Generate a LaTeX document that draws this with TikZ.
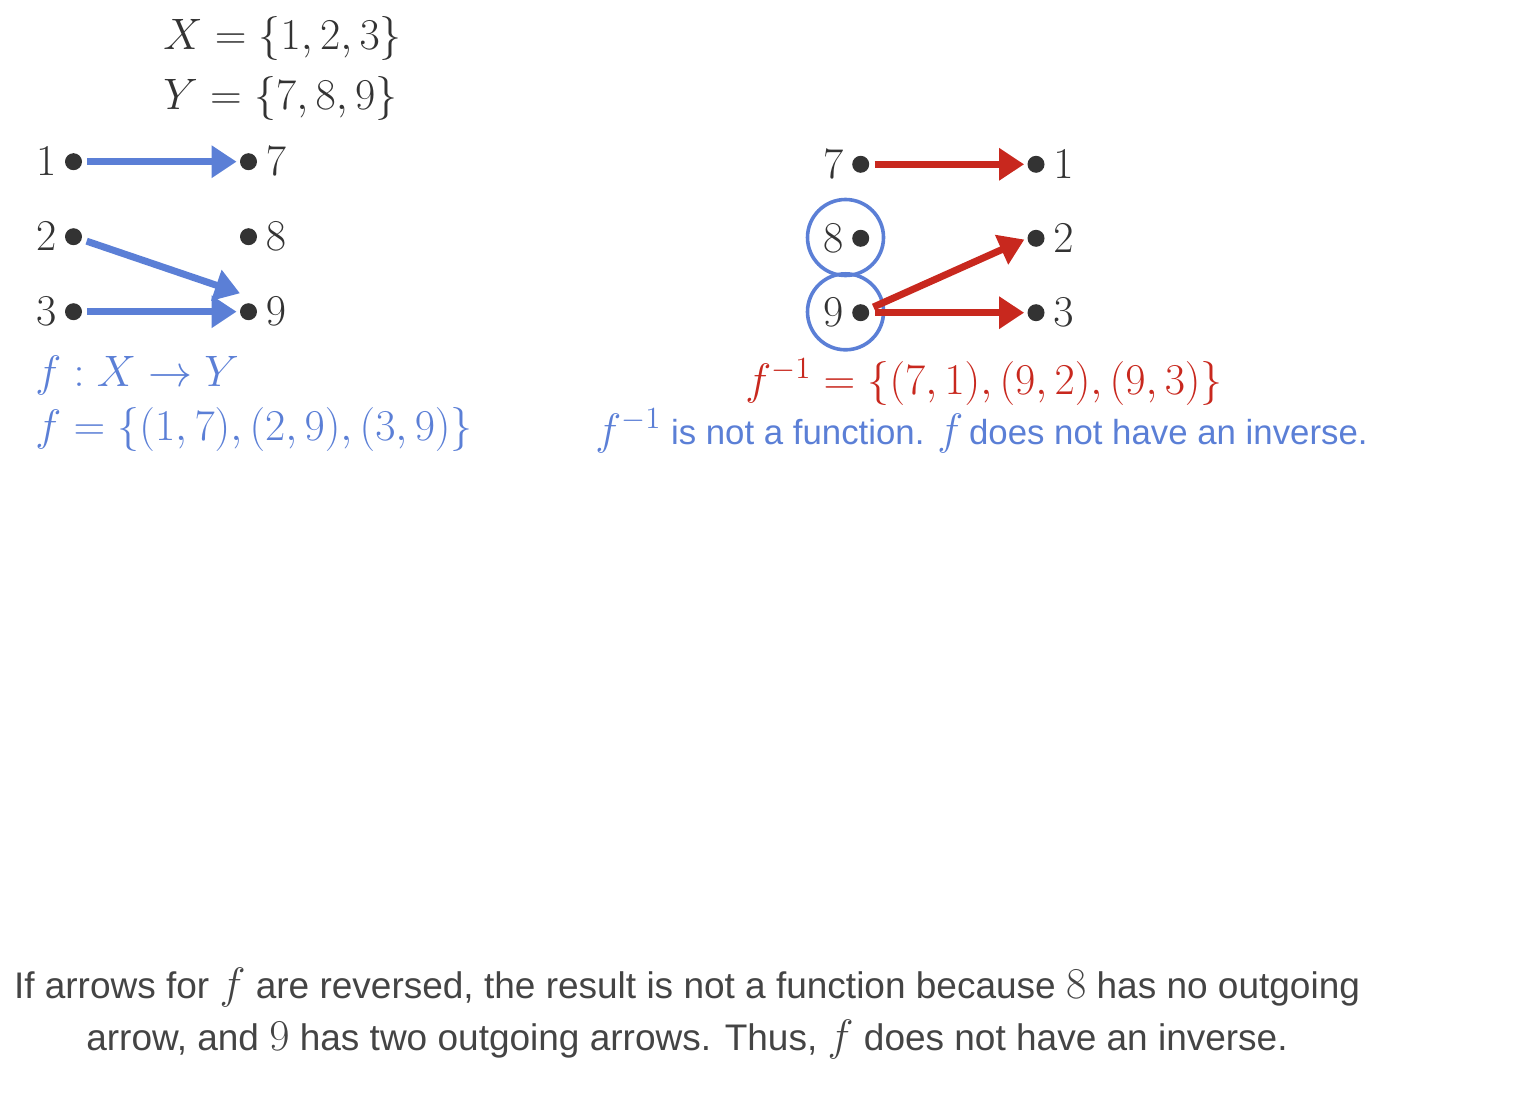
\documentclass[tikz,border=0pt]{standalone}
\usepackage{fix-cm}
\usepackage{fontspec}
\newfontfamily\uifont{Liberation Sans}
\usepackage{xcolor}
\usetikzlibrary{arrows.meta,positioning,calc}

\definecolor{fblue}{HTML}{5B7FD6}
\definecolor{fred}{HTML}{C8281E}
\definecolor{ink}{HTML}{333333}
\definecolor{note}{HTML}{444444}
\newcommand{\bigmath}{\fontsize{22}{26}\selectfont}

\begin{document}
\begin{tikzpicture}[x=0.5pt, y=-0.5pt,
  dot/.style={circle, fill=ink, inner sep=0pt, minimum size=8.5pt},
  num/.style={inner sep=0pt, text=ink, font=\bigmath},
  arr/.style={-{Triangle[length=12.5pt,width=15.5pt]}, line width=3.5pt, color=#1, shorten <=2.5pt, shorten >=1.5pt},
  ring/.style={draw=fblue, line width=1.8pt, circle, minimum size=38pt, inner sep=0pt},
  eq/.style={inner sep=0pt, anchor=base west, font=\bigmath},
  txt/.style={inner sep=0pt, font=\uifont\fontsize{18.5}{26}\selectfont, align=center}
]
\useasboundingbox (0,0) rectangle (1518,1118);

% Sets
\node[eq, text=ink] (setX) at (163,50) {$X=\{1,2,3\}$};
\node[eq, text=ink] (setY) at (163,110) {$Y=\{7,8,9\}$};

% f : X -> Y
\node[dot] (l1) at (73.5,161.7) {};
\node[dot] (l2) at (73.5,236.7) {};
\node[dot] (l3) at (73.5,311.7) {};
\node[dot] (l7) at (248.5,161.7) {};
\node[dot] (l8) at (248.5,236.7) {};
\node[dot] (l9) at (248.5,311.7) {};
\foreach \n/\v in {1/1,2/2,3/3} \node[num, left=4pt of l\n] {$\v$};
\foreach \n/\v in {7/7,8/8,9/9} \node[num, right=4pt of l\n] {$\v$};
\coordinate (tip29) at ($(l9)+(-8.5,-18.4)$);

\draw[arr=fblue] (l1) -- (l7);
\draw[arr=fblue, shorten >=0pt] (l2) -- (tip29);
\draw[arr=fblue] (l3) -- (l9);

\node[eq, text=fblue] (fmap) at (35,386) {$f:X\to Y$};
\node[eq, text=fblue] (fset) at (35,440) {$f=\{(1,7),(2,9),(3,9)\}$};

% reversed arrows
\node[dot] (r7) at (860.7,164.3) {};
\node[dot] (r8) at (860.7,238.3) {};
\node[dot] (r9) at (860.7,312.7) {};
\node[dot] (r1) at (1036,164.3) {};
\node[dot] (r2) at (1036,238.3) {};
\node[dot] (r3) at (1036,312.7) {};
\foreach \n/\v in {7/7,8/8,9/9} \node[num, left=4pt of r\n] {$\v$};
\foreach \n/\v in {1/1,2/2,3/3} \node[num, right=4pt of r\n] {$\v$};

\node[ring] (ring8) at (845.5,237.5) {};
\node[ring] (ring9) at (845.5,311.8) {};

\draw[arr=fred] (r7) -- (r1);
\draw[arr=fred] (r9) -- (r2.west);
\draw[arr=fred] (r9) -- (r3);

\node[eq, text=fred] (finv) at (745,394) {$f^{-1}=\{(7,1),(9,2),(9,3)\}$};
\node[eq, text=fblue, font=\uifont\fontsize{17.4}{22}\selectfont] (nofunc) at (595,444)
  {{\bigmath$f^{-1}$} is not a function. {\bigmath$f$}\,does not have an inverse.};

% explanation
\node[txt, text=note] (why) at (687,1013)
  {If arrows for {\bigmath$f$} are reversed, the result is not a function because {\bigmath$8$} has no outgoing\\
   arrow, and {\bigmath$9$} has two outgoing arrows. Thus, {\bigmath$f$} does not have an inverse.};

\end{tikzpicture}
\end{document}
